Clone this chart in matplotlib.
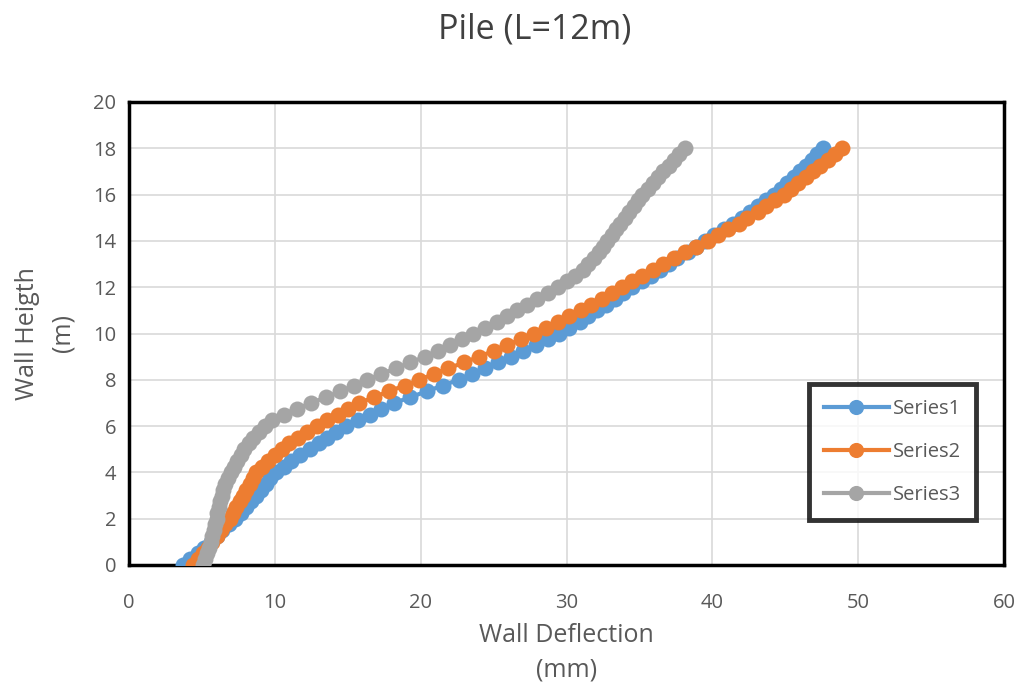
import matplotlib
matplotlib.use("Agg")
import matplotlib.pyplot as plt

plt.rcParams['font.family'] = ['Open Sans', 'DejaVu Sans']

heights = [0, 0.25, 0.5, 0.75, 1, 1.25, 1.5, 1.75, 2, 2.25, 2.5, 2.75, 3, 3.25, 3.5, 3.75,
           4, 4.25, 4.5, 4.75, 5, 5.25, 5.5, 5.75, 6, 6.25, 6.5, 6.75, 7, 7.25, 7.5, 7.75,
           8, 8.25, 8.5, 8.75, 9, 9.25, 9.5, 9.75, 10, 10.25, 10.5, 10.75, 11, 11.25, 11.5, 11.75,
           12, 12.25, 12.5, 12.75, 13, 13.25, 13.5, 13.75, 14, 14.25, 14.5, 14.75, 15, 15.25, 15.5, 15.75,
           16, 16.25, 16.5, 16.75, 17, 17.25, 17.5, 17.75, 18]

series1 = [3.7, 4.2, 4.7, 5.15, 5.6, 6.0, 6.4, 6.85, 7.3, 7.65, 8.0, 8.35, 8.7, 9.05, 9.4, 9.7,
           10.05, 10.6, 11.1, 11.7, 12.4, 13.0, 13.6, 14.2, 14.9, 15.7, 16.5, 17.3, 18.2, 19.3, 20.4, 21.5,
           22.6, 23.5, 24.4, 25.3, 26.2, 27.0, 27.9, 28.7, 29.5, 30.2, 30.9, 31.5, 32.1, 32.7, 33.3, 33.9,
           34.5, 35.2, 35.8, 36.4, 37.0, 37.6, 38.3, 38.9, 39.5, 40.1, 40.8, 41.4, 42.0, 42.6, 43.1, 43.7,
           44.2, 44.7, 45.1, 45.6, 46.0, 46.4, 46.8, 47.2, 47.6]

series2 = [4.4, 4.75, 5.1, 5.4, 5.7, 6.0, 6.3, 6.6, 6.9, 7.1, 7.35, 7.6, 7.85, 8.05, 8.3, 8.5,
           8.7, 9.1, 9.5, 10.0, 10.5, 11.0, 11.6, 12.2, 12.9, 13.6, 14.3, 15.0, 15.8, 16.8, 17.8, 18.9,
           19.9, 20.9, 21.9, 23.0, 24.0, 25.0, 25.9, 26.9, 27.8, 28.6, 29.4, 30.2, 31.0, 31.7, 32.4, 33.1,
           33.8, 34.5, 35.2, 35.9, 36.6, 37.4, 38.1, 38.9, 39.7, 40.4, 41.1, 41.8, 42.4, 43.1, 43.7, 44.3,
           44.9, 45.4, 45.9, 46.4, 46.9, 47.4, 47.9, 48.4, 48.9]

series3 = [5.1, 5.2, 5.35, 5.5, 5.6, 5.7, 5.8, 5.9, 6.0, 6.05, 6.15, 6.25, 6.35, 6.45, 6.6, 6.8,
           7.0, 7.2, 7.4, 7.65, 7.9, 8.2, 8.5, 8.9, 9.3, 9.8, 10.6, 11.5, 12.5, 13.5, 14.5, 15.4,
           16.3, 17.3, 18.3, 19.3, 20.3, 21.2, 22.0, 22.8, 23.6, 24.4, 25.2, 25.9, 26.6, 27.3, 28.0, 28.7,
           29.4, 30.0, 30.6, 31.1, 31.5, 31.9, 32.2, 32.5, 32.8, 33.1, 33.4, 33.7, 34.0, 34.3, 34.6, 34.9,
           35.2, 35.6, 35.9, 36.3, 36.6, 37.0, 37.4, 37.7, 38.1]

labels = ["Series1", "Series2", "Series3"]
colors = ["#5B9BD5", "#ED7D31", "#A5A5A5"]

W, H = 1023, 691
fig = plt.figure(figsize=(W / 100, H / 100), dpi=100)
ax = fig.add_axes([129 / W, 1 - 565 / H, (1004 - 129) / W, (565 - 102) / H])

for xs, lab, col in zip([series1, series2, series3], labels, colors):
    ax.plot(xs, heights, color=col, lw=3, marker='o', markersize=11.5,
            markeredgewidth=0, label=lab, zorder=3)

ax.set_xlim(0, 60)
ax.set_ylim(0, 20)
ax.set_xticks(range(0, 61, 10))
ax.set_yticks(range(0, 21, 2))
ax.grid(True, color="#D9D9D9", lw=1.2, zorder=0)
ax.tick_params(axis='y', length=0, labelsize=14.5, colors="#595959", pad=9)
ax.tick_params(axis='x', length=0, labelsize=14.5, colors="#595959", pad=20)
for sp in ax.spines.values():
    sp.set_linewidth(2.5)
    sp.set_color("black")

fig.text(535 / W, 1 - 30 / H, "Pile (L=12m)", ha='center', va='center',
         fontsize=24.5, color="#404040")
ax.set_xlabel("Wall Deflection\n(mm)", fontsize=18, color="#595959", labelpad=7,
              linespacing=1.55)
ax.set_ylabel("Wall Heigth\n(m)", fontsize=18, color="#595959", labelpad=13,
              linespacing=1.55)

leg = ax.legend(loc='lower right', bbox_to_anchor=(0.968, 0.097), fontsize=14.5,
                frameon=True, fancybox=False, edgecolor='black', labelspacing=1.15,
                handlelength=3.2, handletextpad=0.2, borderpad=0.75, borderaxespad=0,
                markerscale=0.95)
leg.get_frame().set_linewidth(3.5)
for t in leg.get_texts():
    t.set_color("#595959")

fig.savefig("out.png", dpi=100)
